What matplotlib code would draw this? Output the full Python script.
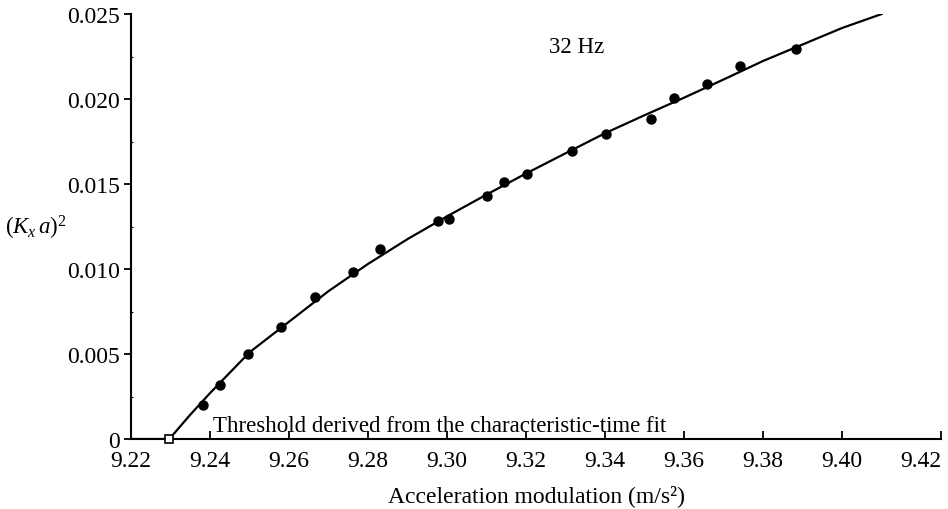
import matplotlib
matplotlib.use("Agg")
import matplotlib.pyplot as plt

accel = [9.2381, 9.2425, 9.2495, 9.2580, 9.2665, 9.2763, 9.2831, 9.2978, 9.3005,
         9.3100, 9.3144, 9.3203, 9.3317, 9.3402, 9.3516, 9.3573, 9.3657, 9.3742, 9.3884]
ka2 = [0.00202, 0.00318, 0.00499, 0.00656, 0.00833, 0.00983, 0.01116, 0.01284, 0.01293,
       0.01431, 0.01514, 0.01561, 0.01696, 0.01794, 0.01881, 0.02005, 0.02089, 0.02195, 0.02294]

# fitted curve (traced)
fit_x = [9.22, 9.2297, 9.235, 9.240, 9.250, 9.260, 9.270, 9.280, 9.290, 9.300, 9.310,
         9.320, 9.330, 9.340, 9.350, 9.360, 9.370, 9.380, 9.390, 9.400, 9.410]
fit_y = [0.0, 0.0, 0.00143, 0.0027, 0.0051, 0.0069, 0.0087, 0.0103, 0.01176, 0.0131, 0.01438,
         0.01562, 0.01681, 0.01799, 0.01905, 0.02008, 0.02115, 0.02224, 0.02321, 0.02418, 0.0250]

threshold = 9.2297

xticks = [9.22, 9.24, 9.26, 9.28, 9.30, 9.32, 9.34, 9.36, 9.38, 9.40, 9.42]
yticks = [0, 0.005, 0.010, 0.015, 0.020, 0.025]
ytick_labels = ["0", "0.005", "0.010", "0.015", "0.020", "0.025"]

plt.rcParams['font.family'] = ['Liberation Serif', 'DejaVu Serif']
plt.rcParams['mathtext.fontset'] = 'custom'
plt.rcParams['mathtext.rm'] = 'Liberation Serif'
plt.rcParams['mathtext.it'] = 'Liberation Serif:italic'

fig = plt.figure(figsize=(9.48, 5.10), dpi=100)
ax = fig.add_axes([131/948, 1 - 440/510, (941 - 131)/948, (440 - 15)/510])

ax.plot(fit_x, fit_y, color='black', lw=1.6, zorder=2)
ax.plot(accel, ka2, 'o', color='black', ms=6.5, zorder=3)
ax.plot([threshold], [0], 's', mfc='white', mec='black', mew=1.2, ms=6,
        zorder=4, clip_on=False)

ax.set_xlim(9.22, 9.425)
ax.set_ylim(0, 0.025)
ax.set_xticks(xticks)
ax.set_xticklabels([f"{v:.2f}" for v in xticks])
ax.set_xticks([9.425], minor=True)
ax.set_yticks(yticks)
ax.set_yticklabels(ytick_labels)
ax.set_yticks([0.0025, 0.0075, 0.0125, 0.0175, 0.0225], minor=True)

for s in ['top', 'right']:
    ax.spines[s].set_visible(False)
for s in ['left', 'bottom']:
    ax.spines[s].set_linewidth(1.5)

ax.tick_params(axis='x', which='major', direction='in', length=6, width=1.3,
               labelsize=17, pad=8)
ax.tick_params(axis='x', which='minor', direction='in', length=6, width=1.3)
ax.tick_params(axis='y', which='major', direction='out', length=5, width=1.3,
               labelsize=17, pad=3)
ax.tick_params(axis='y', which='minor', direction='in', length=1.5, width=0.8)
ax.xaxis.get_major_ticks()[-1].tick1line.set_visible(False)

ax.text(9.2408, 0.0005, "Threshold derived from the characteristic-time fit",
        fontsize=16.5, ha='left', va='baseline')
ax.text(9.3329, 0.0231, "32 Hz", fontsize=16.5, ha='center', va='center')

ax.set_xlabel("Acceleration modulation (m/s²)", fontsize=17, labelpad=9)
fig.text(0.005, 1 - 228/510, r"$(K_x\,a)^2$", fontsize=16.5, ha='left', va='center')

fig.savefig("out.png", dpi=100)
